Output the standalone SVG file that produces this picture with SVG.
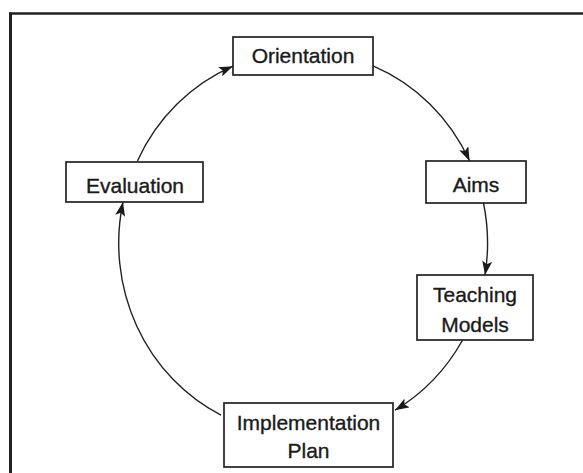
<svg xmlns="http://www.w3.org/2000/svg" width="583" height="473" viewBox="0 0 583 473">
  <style>
    .box { fill: #ffffff; stroke: #222222; stroke-width: 1.7; }
    .lbl { font-family: "Liberation Sans", Arial, sans-serif; font-size: 21px; fill: #1a1a1a; stroke: #1a1a1a; stroke-width: 0.35; text-anchor: middle; }
    .conn { fill: none; stroke: #222222; stroke-width: 1.4; marker-end: url(#arrow); }
    .frame { stroke: #222222; fill: none; }
  </style>
  <defs>
    <marker id="arrow" viewBox="0 0 14 10" refX="14" refY="5" markerWidth="14" markerHeight="10" markerUnits="userSpaceOnUse" orient="auto">
      <path d="M0,0 L14,5 L0,10 L3,5 z" fill="#1a1a1a"/>
    </marker>
  </defs>
  <rect x="0" y="0" width="583" height="473" fill="#ffffff"/>
  <g id="frame">
    <line class="frame" x1="10.5" y1="12.5" x2="10.5" y2="473" stroke-width="3"/>
    <line class="frame" x1="9" y1="13.5" x2="583" y2="13.5" stroke-width="2.6"/>
  </g>
  <g id="connectors">
    <path class="conn" d="M373,65.8 A184,192 0 0 1 469.6,161"/>
    <path class="conn" d="M483.5,203 A184,192 0 0 1 485,275"/>
    <path class="conn" d="M462.6,340 A184,192 0 0 1 395,410.2"/>
    <path class="conn" d="M221,415.2 A184,192 0 0 1 123,202"/>
    <path class="conn" d="M137.4,161 A184,192 0 0 1 233,66.2"/>
  </g>
  <g id="orientation">
    <rect class="box" x="233" y="37" width="140" height="38"/>
    <text class="lbl" x="303" y="63">Orientation</text>
  </g>
  <g id="aims">
    <rect class="box" x="426" y="161" width="100" height="42"/>
    <text class="lbl" x="476" y="192">Aims</text>
  </g>
  <g id="teaching-models">
    <rect class="box" x="417" y="275" width="116" height="65"/>
    <text class="lbl" x="475" y="302">Teaching</text>
    <text class="lbl" x="475" y="332">Models</text>
  </g>
  <g id="implementation-plan">
    <rect class="box" x="224" y="403" width="169" height="64"/>
    <text class="lbl" x="308.5" y="430">Implementation</text>
    <text class="lbl" x="308.5" y="458">Plan</text>
  </g>
  <g id="evaluation">
    <rect class="box" x="66" y="162" width="137" height="40"/>
    <text class="lbl" x="135" y="193">Evaluation</text>
  </g>
</svg>
